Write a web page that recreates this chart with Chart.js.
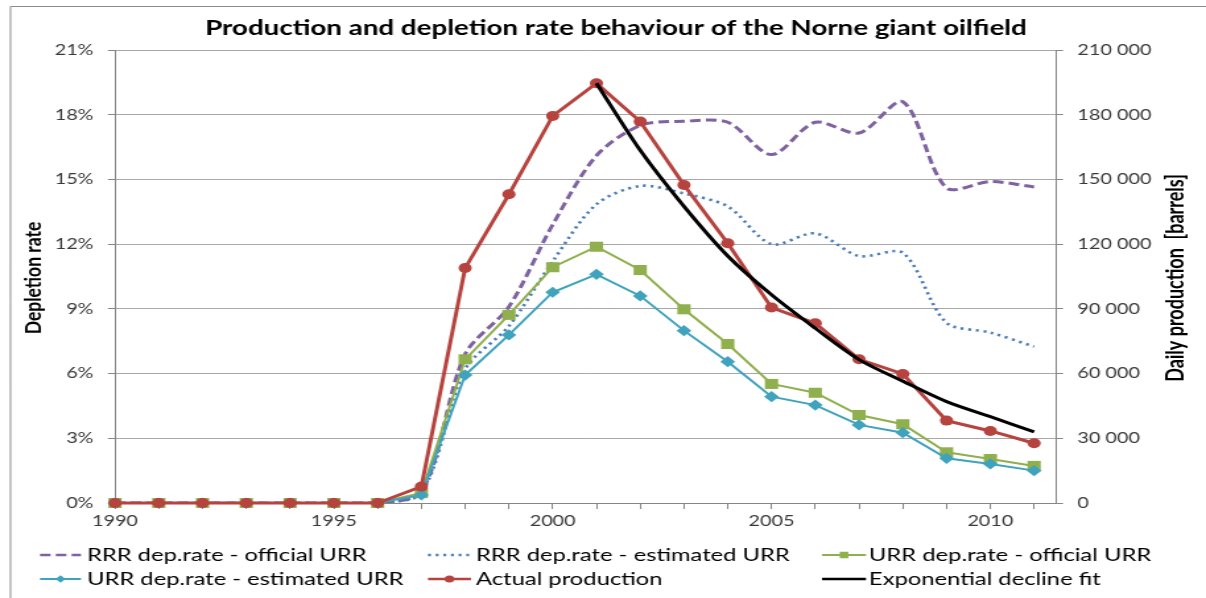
<!DOCTYPE html>
<html><head><meta charset="utf-8">
<script src="https://cdn.jsdelivr.net/npm/chart.js@4.4.1/dist/chart.umd.min.js"></script>
<style>
html,body{margin:0;padding:0;background:#fff;overflow:hidden;}
#wrap{position:absolute;left:0;top:0;width:914px;height:598px;transform:scaleX(1.319475);transform-origin:0 0;}
canvas{display:block;}
</style></head><body>
<div id="wrap"><canvas id="c" width="914" height="598"></canvas></div>
<script>
// ---- data ----
const years = [1990,1991,1992,1993,1994,1995,1996,1997,1998,1999,2000,2001,2002,2003,2004,2005,2006,2007,2008,2009,2010,2011];
const rrrOfficial  = [0,0,0,0,0,0,0,0.5,6.9,9.1,12.9,16.1,17.5,17.7,17.65,16.15,17.65,17.15,18.6,14.6,14.9,14.65];
const rrrEstimated = [0,0,0,0,0,0,0,0.45,6.2,8.2,11.2,13.85,14.7,14.35,13.75,12.0,12.5,11.45,11.6,8.35,7.9,7.25];
const urrOfficial  = [0,0,0,0,0,0,0,0.46,6.66,8.72,10.93,11.88,10.8,8.98,7.37,5.52,5.11,4.08,3.65,2.35,2.04,1.72];
const urrEstimated = [0,0,0,0,0,0,0,0.37,5.93,7.79,9.77,10.6,9.6,7.99,6.55,4.93,4.54,3.62,3.26,2.07,1.81,1.5];
const actualProduction = [0,0,0,0,0,0,0,7600,108900,143100,179400,194600,176800,147400,120400,90600,83300,66600,59800,38200,33400,27700];
const exponentialFit = [null,null,null,null,null,null,null,null,null,null,null,194600,163500,137500,114500,96500,81000,66500,56500,47000,40000,33000];
const seriesNames = ['RRR dep.rate - official URR','RRR dep.rate - estimated URR','URR dep.rate - official URR','URR dep.rate - estimated URR','Actual production','Exponential decline fit'];
const xLabelYears = [1990,1995,2000,2005,2010];
const titleText = 'Production and depletion rate behaviour of the Norne giant oilfield';
const leftAxisTitle = 'Depletion rate';
const rightAxisTitle = 'Daily production  [barrels]';

// ---- layout (internal canvas is horizontally stretched by S) ----
const W0 = 914, H = 598, S = 1206 / W0;
const X = v => v / S;
const AREA = {left: X(115), right: X(1056), top: 50, bottom: 503};
const FONT = 'Lato, "Open Sans", sans-serif';
const AXIS = '#868686', GRID = '#a8a8a8', TXT = '#3a3a3a';

const pts = arr => years.map((y, i) => ({x: y, y: arr[i]}));

const styles = [
  {color:'#7f62a1', width:3, dash:[8,4], point:false, tension:0.3},
  {color:'#4a7ebb', width:2.6, dash:[2.2,3.6], point:false, tension:0.3},
  {color:'#8fb04c', width:2, dash:[], point:'rect', radius:7.1, lr:4.6},
  {color:'#3fa3bd', width:2, dash:[], point:'rectRot', radius:5.6, lr:3.8},
  {color:'#b7433f', width:3, dash:[], point:'circle', radius:5, lr:3.6},
  {color:'#000000', width:3, dash:[], point:false, tension:0.3}
];
const values = [rrrOfficial, rrrEstimated, urrOfficial, urrEstimated, actualProduction, exponentialFit];
const axisOf = ['y','y','y','y','y2','y2'];
const orderOf = [5,4,3,2,1,0];

const datasets = values.map((v, i) => {
  const s = styles[i];
  return {
    label: seriesNames[i],
    data: pts(v),
    yAxisID: axisOf[i],
    order: orderOf[i],
    borderColor: s.color,
    backgroundColor: s.color,
    borderWidth: s.width,
    borderDash: s.dash,
    tension: s.tension || 0,
    pointStyle: s.point || 'circle',
    pointRadius: s.point ? s.radius : 0,
    pointHoverRadius: s.point ? s.radius : 0,
    pointBorderWidth: 0,
    pointBackgroundColor: s.color,
    spanGaps: false,
    clip: s.point ? false : undefined
  };
});

const fmtThousands = v => String(v).replace(/\B(?=(\d{3})+(?!\d))/g, ' ');

const overlay = {
  id: 'overlay',
  beforeDraw(chart) {
    const c = chart.ctx; c.save(); c.fillStyle = '#fff'; c.fillRect(0, 0, chart.width, chart.height); c.restore();
  },
  afterDraw(chart) {
    const c = chart.ctx;
    c.save();
    // frame
    c.strokeStyle = '#8c8c8c'; c.lineWidth = 1;
    c.beginPath(); c.moveTo(X(10.5), H); c.lineTo(X(10.5), 6.5); c.lineTo(W0, 6.5); c.stroke();
    // title
    c.fillStyle = '#000'; c.textAlign = 'center'; c.textBaseline = 'middle';
    c.font = 'bold 21px ' + FONT;
    c.fillText(titleText, X(616), 28);
    // axis titles
    c.font = 'bold 17.5px ' + FONT;
    c.save(); c.translate(X(33), 278); c.rotate(-Math.PI/2); c.fillText(leftAxisTitle, 0, 0); c.restore();
    c.font = 'bold 18px ' + FONT;
    c.save(); c.translate(X(1176), 278); c.rotate(-Math.PI/2); c.fillText(rightAxisTitle, 0, 0); c.restore();
    // legend
    const cols = [{s: X(40), e: X(81), t: X(87)}, {s: X(428), e: X(471), t: X(476)}, {s: X(822), e: X(866), t: X(869)}];
    const rows = [555, 579];
    c.font = '18px ' + FONT; c.textAlign = 'left'; c.textBaseline = 'middle';
    seriesNames.forEach((name, i) => {
      const col = cols[i % 3], y = rows[Math.floor(i / 3)], st = styles[i];
      c.save();
      c.strokeStyle = st.color; c.lineWidth = Math.min(st.width, 2.6); c.setLineDash(st.dash);
      c.beginPath(); c.moveTo(col.s, y); c.lineTo(col.e, y); c.stroke();
      c.setLineDash([]);
      if (st.point) {
        c.fillStyle = st.color; c.strokeStyle = st.color;
        Chart.helpers.drawPoint(c, {pointStyle: st.point, radius: st.lr, rotation: 0, borderWidth: 0}, (col.s + col.e) / 2, y);
      }
      c.restore();
      c.fillStyle = '#000';
      c.fillText(name, col.t, y);
    });
    c.restore();
  }
};

new Chart(document.getElementById('c'), {
  type: 'line',
  data: {datasets},
  options: {
    responsive: false,
    animation: false,
    events: [],
    layout: {padding: {top: AREA.top, left: 0, right: 0, bottom: 0}},
    plugins: {legend: {display: false}, title: {display: false}, tooltip: {enabled: false}},
    scales: {
      x: {
        type: 'linear', min: 1990, max: 2011.5,
        afterBuildTicks: s => { s.ticks = years.map(v => ({value: v})); },
        afterFit: s => { s.height = H - AREA.bottom; },
        ticks: {autoSkip: false, maxRotation: 0, padding: 3, color: TXT, font: {family: FONT, size: 15},
          callback: v => xLabelYears.includes(v) ? String(v) : ''},
        grid: {drawOnChartArea: false, tickLength: 6, color: AXIS, lineWidth: 1},
        border: {display: true, color: AXIS, width: 1}
      },
      y: {
        position: 'left', min: 0, max: 21,
        afterBuildTicks: s => { s.ticks = [0,3,6,9,12,15,18,21].map(v => ({value: v})); },
        afterFit: s => { s.width = AREA.left; },
        ticks: {padding: 11, color: TXT, font: {family: FONT, size: 15}, callback: v => v + '%'},
        grid: {color: GRID, lineWidth: 1, tickLength: 5.3, tickColor: AXIS},
        border: {display: true, color: AXIS, width: 1}
      },
      y2: {
        position: 'right', min: 0, max: 210000,
        afterBuildTicks: s => { s.ticks = [0,30000,60000,90000,120000,150000,180000,210000].map(v => ({value: v})); },
        afterFit: s => { s.width = W0 - AREA.right; },
        ticks: {padding: 11, color: TXT, font: {family: FONT, size: 15}, callback: v => fmtThousands(v)},
        grid: {drawOnChartArea: false, tickLength: 5.3, color: AXIS},
        border: {display: true, color: AXIS, width: 1}
      }
    }
  },
  plugins: [overlay]
});
</script>
</body></html>
